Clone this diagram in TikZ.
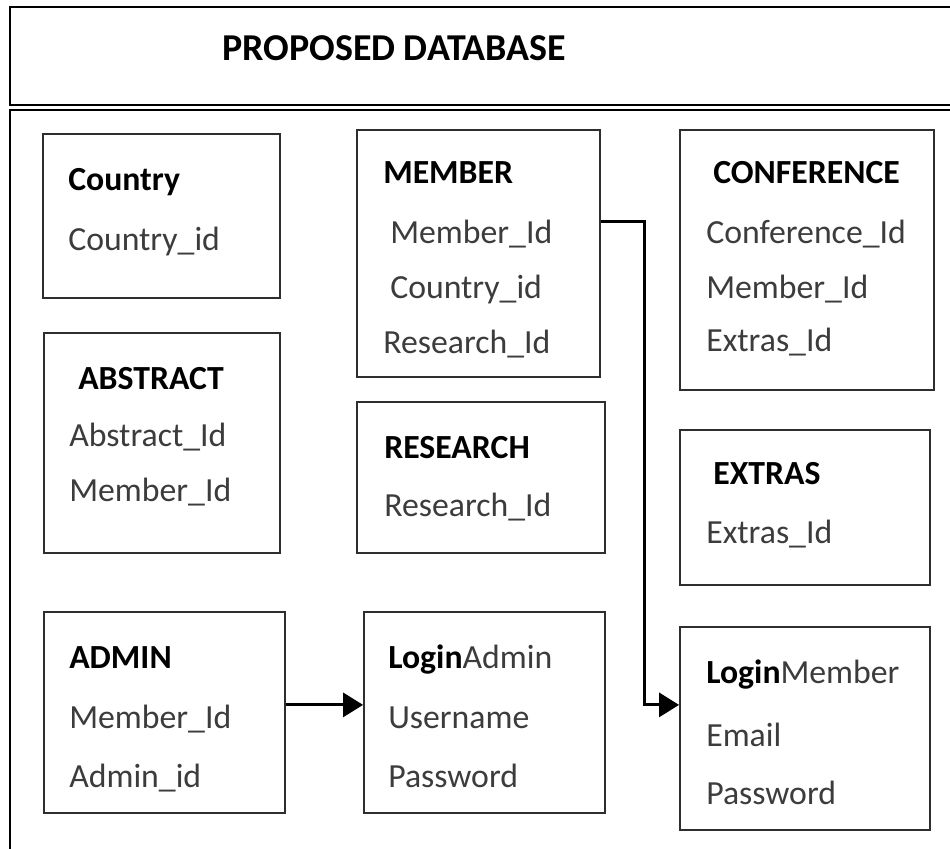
\documentclass[tikz,border=0pt]{standalone}
\usepackage{fontspec}
\setmainfont{Carlito}
\usepackage{xcolor}
\usetikzlibrary{arrows.meta,fit,positioning}
\definecolor{fieldgray}{HTML}{3C3C3C}
\definecolor{edgegray}{HTML}{2E2E2E}
\newcommand{\tblfont}{\fontsize{24}{29}\selectfont}
\newcommand{\headfont}{\fontsize{27}{32}\selectfont\bfseries}

\begin{document}
\begin{tikzpicture} [
      x = 0.025cm, y = -0.025cm,
      frame/.style = { draw = black, line width = 1.5pt },
      tbl/.style = { draw = edgegray, line width = 1.3pt, rectangle, inner sep = 0 },
      ttl/.style = { anchor = base west, inner sep = 0, font = \tblfont\bfseries, text = black },
      fld/.style = { anchor = base west, inner sep = 0, font = \tblfont, text = fieldgray },
      link/.style = { line width = 2.2pt, -{Triangle[length=0.5cm, width=0.6cm]} }
      ]
    \clip (0,0) rectangle (950,849);

    % header and body frames
    \draw [frame] (10,7) rectangle (975,105);
    \draw [frame] (10,110) rectangle (975,880);
    \node [anchor = base west, inner sep = 0, font = \headfont] (head) at (222,60) {PROPOSED DATABASE};

    % tables
    \node [tbl, fit = {(43,134) (280,298)}] (country) {};
    \node [tbl, fit = {(357,130) (600,377)}] (member) {};
    \node [tbl, fit = {(680,130) (934,390)}] (conference) {};
    \node [tbl, fit = {(44,333) (280,553)}] (abstract) {};
    \node [tbl, fit = {(357,402) (605,553)}] (research) {};
    \node [tbl, fit = {(680,430) (930,585)}] (extras) {};
    \node [tbl, fit = {(44,612) (285,813)}] (admin) {};
    \node [tbl, fit = {(364,612) (605,813)}] (loginadmin) {};
    \node [tbl, fit = {(680,627) (930,830)}] (loginmember) {};

    % fields
    \node [ttl] (country-t) at (68,190) {Country};
    \node [fld] (country-1) at (68,250) {Country\_id};

    \node [ttl] (member-t) at (383,183) {MEMBER};
    \node [fld] (member-1) at (390,243) {Member\_Id};
    \node [fld] (member-2) at (390,298) {Country\_id};
    \node [fld] (member-3) at (383,353) {Research\_Id};

    \node [ttl] (conference-t) at (713,183) {CONFERENCE};
    \node [fld] (conference-1) at (706,243) {Conference\_Id};
    \node [fld] (conference-2) at (706,298) {Member\_Id};
    \node [fld] (conference-3) at (706,351) {Extras\_Id};

    \node [ttl] (abstract-t) at (78,389) {ABSTRACT};
    \node [fld] (abstract-1) at (69,446) {Abstract\_Id};
    \node [fld] (abstract-2) at (69,501) {Member\_Id};

    \node [ttl] (research-t) at (384,458) {RESEARCH};
    \node [fld] (research-1) at (384,516) {Research\_Id};

    \node [ttl] (extras-t) at (713,484) {EXTRAS};
    \node [fld] (extras-1) at (706,543) {Extras\_Id};

    \node [ttl] (admin-t) at (69,668) {ADMIN};
    \node [fld] (admin-1) at (69,728) {Member\_Id};
    \node [fld] (admin-2) at (69,787) {Admin\_id};

    \node [fld] (loginadmin-t) at (388,668) {\textcolor{black}{\bfseries Login}Admin};
    \node [fld] (loginadmin-1) at (388,728) {Username};
    \node [fld] (loginadmin-2) at (388,787) {Password};

    \node [fld] (loginmember-t) at (706,683) {\textcolor{black}{\bfseries Login}Member};
    \node [fld] (loginmember-1) at (706,746) {Email};
    \node [fld] (loginmember-2) at (706,804) {Password};

    % connectors
    \draw [link] ([yshift=0.19cm]admin.east) -- ([yshift=0.19cm]loginadmin.west);
    \draw [link] ([yshift=0.79cm]member.east) -- ++(44,0) |- ([yshift=0.59cm]loginmember.west);
\end{tikzpicture}
\end{document}
